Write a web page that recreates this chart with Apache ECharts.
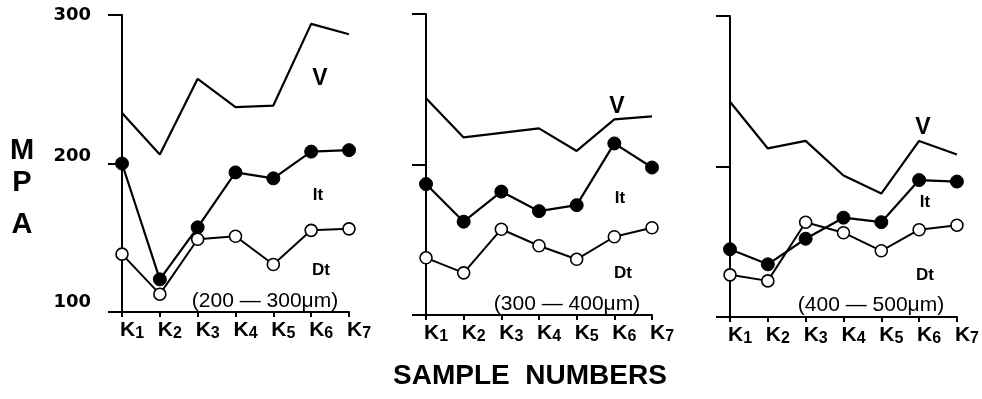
<!DOCTYPE html>
<html>
<head>
<meta charset="utf-8">
<script src="https://cdn.jsdelivr.net/npm/echarts@6/dist/echarts.min.js"></script>
<style>html,body{margin:0;padding:0;background:#fff}#c{width:982px;height:399px}</style>
</head>
<body>
<div id="c"></div>
<script>
const categories = ['K1', 'K2', 'K3', 'K4', 'K5', 'K6', 'K7'];
const yTicks = [100, 200, 300];

// Panel 1 (200-300 um)
const p1V  = [234, 206, 257, 238, 239, 294, 287];
const p1It = [200, 122, 157, 194, 190, 208, 209];
const p1Dt = [139, 112, 149, 151, 132, 155, 156];
// Panel 2 (300-400 um)
const p2V  = [244, 218, 221, 224, 209, 230, 232];
const p2It = [187, 162, 182, 169, 173, 214, 198];
const p2Dt = [138, 128, 157, 146, 137, 152, 158];
// Panel 3 (400-500 um)
const p3V  = [243, 212, 217, 194, 182, 217, 208];
const p3It = [145, 135, 152, 166, 163, 191, 190];
const p3Dt = [128, 124, 163, 156, 144, 158, 161];

const panelTitles = ['(200 — 300μm)', '(300 — 400μm)', '(400 — 500μm)'];
const seriesNames = ['V', 'It', 'Dt'];

const panels = [
  { V: p1V, It: p1It, Dt: p1Dt },
  { V: p2V, It: p2It, Dt: p2Dt },
  { V: p3V, It: p3It, Dt: p3Dt }
];

const grids = [
  { left: 122, top: 15, width: 227, height: 297 },
  { left: 426, top: 14, width: 226, height: 301 },
  { left: 730, top: 16, width: 229, height: 301 }
];

const black = '#000';
const kFont = '"Liberation Sans Narrow", "Liberation Sans", Arial, sans-serif';
const numFont = 'DejaVu Sans';

const xAxes = grids.map((g, i) => ({
  type: 'category', gridIndex: i, data: categories, boundaryGap: false,
  axisLine: { lineStyle: { color: black, width: 2 } },
  axisTick: { show: true, length: 5, inside: false, lineStyle: { color: black, width: 2 } },
  axisLabel: {
    interval: 0, margin: 7, align: 'left',
    formatter: v => '{k|' + v.charAt(0) + '}{s|' + v.slice(1) + '}',
    rich: {
      k: { fontFamily: kFont, fontSize: 21, fontWeight: 'bold', color: black, padding: [0, 0, 0, -2] },
      s: { fontFamily: kFont, fontSize: 16, fontWeight: 'bold', color: black, padding: [7, 0, 0, 0] }
    }
  },
  splitLine: { show: false }
}));

const yAxes = grids.map((g, i) => ({
  type: 'value', gridIndex: i, min: 100, max: 300, interval: 100,
  axisLine: { show: true, lineStyle: { color: black, width: 2 } },
  axisTick: { show: true, length: 14, inside: false, lineStyle: { color: black, width: 2 } },
  axisLabel: {
    show: i === 0, margin: 31, color: black,
    fontFamily: numFont, fontSize: 18, fontWeight: 'bold',
    formatter: v => {
      if (yTicks.indexOf(v) < 0) return '';
      const st = v === 300 ? 'a' : v === 200 ? 'b' : 'c';
      return '{' + st + '|' + v + '}';
    },
    rich: {
      a: { fontFamily: numFont, fontSize: 18, fontWeight: 'bold', color: black },
      b: { fontFamily: numFont, fontSize: 18, fontWeight: 'bold', color: black, padding: [0, 0, 14, 0] },
      c: { fontFamily: numFont, fontSize: 18, fontWeight: 'bold', color: black, padding: [0, 0, 20, 0] }
    }
  },
  splitLine: { show: false }
}));

const series = [];
panels.forEach((p, i) => {
  series.push({
    name: 'V', type: 'line', xAxisIndex: i, yAxisIndex: i, data: p.V,
    symbol: 'none', lineStyle: { color: black, width: 2.2 }, z: 2
  });
  series.push({
    name: 'It', type: 'line', xAxisIndex: i, yAxisIndex: i, data: p.It,
    symbol: 'circle', symbolSize: 13, showAllSymbol: true,
    itemStyle: { color: black, borderColor: black },
    lineStyle: { color: black, width: 2.2 }, z: 3
  });
  series.push({
    name: 'Dt', type: 'line', xAxisIndex: i, yAxisIndex: i, data: p.Dt,
    symbol: 'circle', symbolSize: 12, showAllSymbol: true,
    itemStyle: { color: '#fff', borderColor: black, borderWidth: 1.6 },
    lineStyle: { color: black, width: 2 }, z: 3
  });
});

const labelPos = [
  { V: [320, 79], It: [318, 195], Dt: [321, 270], T: [265, 301] },
  { V: [617, 107], It: [620, 198], Dt: [623, 273], T: [567, 304] },
  { V: [923, 128], It: [925, 202], Dt: [925, 275], T: [871, 305] }
];

const graphic = [];
const txt = (text, x, y, font) => ({
  type: 'text', x: x, y: y, silent: true,
  style: { text: text, font: font, fill: black, align: 'center', verticalAlign: 'middle' }
});
labelPos.forEach((lp, i) => {
  graphic.push(txt(seriesNames[0], lp.V[0], lp.V[1], 'bold 23px "Liberation Sans", Arial, sans-serif'));
  graphic.push(txt(seriesNames[1], lp.It[0], lp.It[1], 'bold 17px "Liberation Sans", Arial, sans-serif'));
  graphic.push(txt(seriesNames[2], lp.Dt[0], lp.Dt[1], 'bold 17px "Liberation Sans", Arial, sans-serif'));
  graphic.push(txt(panelTitles[i], lp.T[0], lp.T[1], '21px "Liberation Sans", Arial, sans-serif'));
});
// Y axis title (vertical letters)
graphic.push(txt('M', 22, 151, 'bold 29px "Liberation Sans", Arial, sans-serif'));
graphic.push(txt('P', 22, 183, 'bold 29px "Liberation Sans", Arial, sans-serif'));
graphic.push(txt('A', 22, 225, 'bold 29px "Liberation Sans", Arial, sans-serif'));
// X axis title
graphic.push(txt('SAMPLE  NUMBERS', 530, 376, 'bold 28px "Liberation Sans Narrow", "Liberation Sans", Arial, sans-serif'));

const chart = echarts.init(document.getElementById('c'), null, { renderer: 'canvas' });
chart.setOption({
  backgroundColor: '#fff',
  animation: false,
  grid: grids,
  xAxis: xAxes,
  yAxis: yAxes,
  series: series,
  graphic: graphic
});
</script>
</body>
</html>
